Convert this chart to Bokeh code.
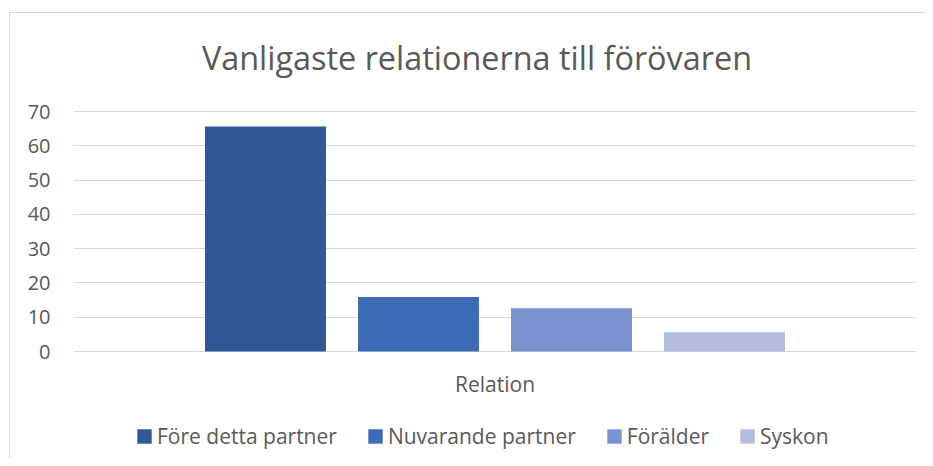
from bokeh.plotting import figure
from bokeh.models import (ColumnDataSource, FactorRange, Range1d, FixedTicker,
                          Legend, LegendItem, Label, InlineStyleSheet)
from bokeh.transform import dodge
from bokeh.embed import file_html
from bokeh.resources import INLINE

# ---- data ----
title_text = "Vanligaste relationerna till förövaren"
category = ["Relation"]
series_names = ["Före detta partner", "Nuvarande partner", "Förälder", "Syskon"]
series_values = [65.6, 15.9, 12.6, 5.6]
series_colors = ["#325797", "#3E6BB8", "#7A92CF", "#B3BEDE"]
y_ticks = [0, 10, 20, 30, 40, 50, 60, 70]

TEXT = "#595959"
GRID = "#d9d9d9"
FONT = "Open Sans"

# layout (pixels)
W, H = 925, 458
plot_top, plot_bottom = 111, 351          # where 70 and 0 sit
ppu = (plot_bottom - plot_top) / (y_ticks[-1] - y_ticks[0])
y_start = y_ticks[0] - (H - plot_bottom) / ppu
y_end = y_ticks[-1] + plot_top / ppu

p = figure(width=W, height=H, output_backend="svg", toolbar_location=None,
           x_range=FactorRange(factors=category, range_padding=0),
           y_range=Range1d(y_start, y_end), x_axis_location=None,
           min_border_left=73, min_border_right=9,
           min_border_top=0, min_border_bottom=0)
p.outline_line_color = None
p.background_fill_color = "white"
p.border_fill_color = "white"

# chart-area border (left and top edges visible)
p.stylesheets = [InlineStyleSheet(css=(
    ":host::after { content: ''; position: absolute; left: 9px; top: 12px; "
    "right: 0; bottom: 0; border-left: 1px solid #d9d9d9; "
    "border-top: 1px solid #d9d9d9; pointer-events: none; }"))]

# bars
bar_w = 0.1435
step = 0.1815
n = len(series_names)
items = []
for i, (name, val, col) in enumerate(zip(series_names, series_values, series_colors)):
    src = ColumnDataSource(dict(cat=category, val=[val]))
    off = (i - (n - 1) / 2) * step
    r = p.vbar(x=dodge("cat", off, range=p.x_range), top="val", width=bar_w,
               source=src, fill_color=col, line_color=None)
    items.append(LegendItem(label=name, renderers=[r]))

# y axis
p.yaxis.ticker = FixedTicker(ticks=y_ticks)
p.yaxis.axis_line_color = None
p.yaxis.major_tick_line_color = None
p.yaxis.minor_tick_line_color = None
p.yaxis.major_tick_out = 0
p.yaxis.major_tick_in = 0
p.yaxis.major_label_standoff = 23
p.yaxis.major_label_text_font = FONT
p.yaxis.major_label_text_font_size = "20px"
p.yaxis.major_label_text_color = TEXT

p.xgrid.grid_line_color = None
p.ygrid.grid_line_color = GRID
p.ygrid.grid_line_width = 1

# title
p.add_layout(Label(x=0.5, y=y_ticks[-1] + (plot_top - 56) / ppu, text=title_text,
                   x_offset=-18, text_align="center", text_baseline="alphabetic",
                   text_font=FONT, text_font_size="32.4px", text_color=TEXT))

# category label
p.add_layout(Label(x=0.5, y=y_ticks[0] - (383 - plot_bottom) / ppu, text=category[0],
                   text_align="center", text_baseline="alphabetic",
                   text_font=FONT, text_font_size="21px", text_color=TEXT))

# legend
legend = Legend(items=items, orientation="horizontal", location=(62, 8),
                padding=0, margin=0, spacing=29, label_standoff=4,
                glyph_width=18, glyph_height=18,
                label_text_font=FONT, label_text_font_size="21px",
                label_text_color=TEXT, border_line_color=None,
                background_fill_alpha=0)
p.add_layout(legend, "center")

open("out.html", "w").write(file_html(p, INLINE))
